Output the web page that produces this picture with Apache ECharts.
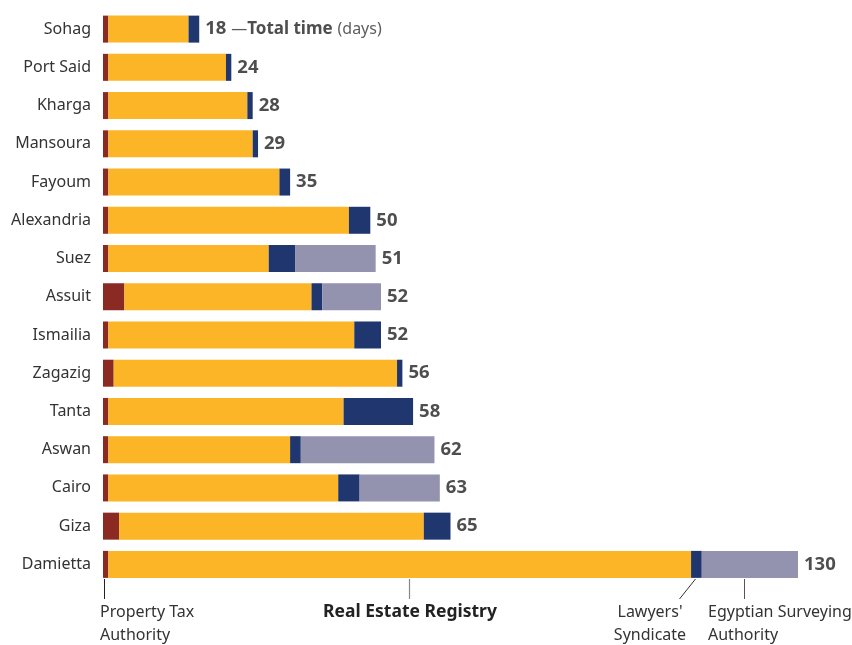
<!DOCTYPE html>
<html>
<head>
<meta charset="utf-8">
<script src="https://cdn.jsdelivr.net/npm/echarts@6/dist/echarts.min.js"></script>
<style>
html,body{margin:0;padding:0;background:#fff;}
#chart{width:852px;height:645px;}
</style>
</head>
<body>
<div id="chart"></div>
<script>
// ---- Data (days) ----
const categories = ['Sohag','Port Said','Kharga','Mansoura','Fayoum','Alexandria','Suez','Assuit','Ismailia','Zagazig','Tanta','Aswan','Cairo','Giza','Damietta'];
const propertyTax     = [1, 1, 1, 1, 1, 1, 1, 4, 1, 2, 1, 1, 1, 3, 1];
const realEstate      = [15, 22, 26, 27, 32, 45, 30, 35, 46, 53, 44, 34, 43, 57, 109];
const lawyers         = [2, 1, 1, 1, 2, 4, 5, 2, 5, 1, 13, 2, 4, 5, 2];
const surveying       = [0, 0, 0, 0, 0, 0, 15, 11, 0, 0, 0, 25, 15, 0, 18];
const totals          = [18, 24, 28, 29, 35, 50, 51, 52, 52, 56, 58, 62, 63, 65, 130];

const FONT = '"Noto Sans", sans-serif';
const FS = 16;
const FST = 18.5;

const colors = { tax:'#8a2a22', reg:'#fbb526', law:'#1f366e', sur:'#9392af' };

const chart = echarts.init(document.getElementById('chart'));

function barSeries(name, data, color){
  return { name, type:'bar', stack:'t', data, barWidth:27,
    itemStyle:{color}, emphasis:{disabled:true}, silent:true };
}

const option = {
  animation:false,
  grid:{ left:103, right:54, top:10, bottom:61.5, containLabel:false },
  xAxis:{ type:'value', min:0, max:130, show:false },
  yAxis:{ type:'category', data:categories, inverse:true,
    axisLine:{show:false}, axisTick:{show:false}, splitLine:{show:false},
    axisLabel:{ fontFamily:FONT, fontSize:FS, color:'#333', margin:12 } },
  series:[
    barSeries('Property Tax Authority', propertyTax, colors.tax),
    barSeries('Real Estate Registry', realEstate, colors.reg),
    barSeries("Lawyers' Syndicate", lawyers, colors.law),
    barSeries('Egyptian Surveying Authority', surveying, colors.sur),
    { type:'scatter', symbolSize:0, silent:true, z:10,
      data: totals.map((v,i)=>[v, i]),
      label:{ show:true, position:'right', distance:6,
        fontFamily:FONT, fontSize:FST, fontWeight:'bold', color:'#222',
        formatter: p => p.dataIndex === 0
          ? '{b|' + p.value[0] + '} {d|—}{t|Total time} {n|(days)}'
          : String(p.value[0]),
        rich:{
          b:{ fontFamily:FONT, fontSize:FST, fontWeight:'bold', color:'#222' },
          t:{ fontFamily:FONT, fontSize:17, fontWeight:'bold', color:'#222' },
          d:{ fontFamily:FONT, fontSize:FS, fontWeight:'normal', color:'#333' },
          n:{ fontFamily:FONT, fontSize:FS, fontWeight:'normal', color:'#333' }
        } } }
  ],
  graphic:[
    { type:'line', shape:{x1:104.5,y1:579,x2:104.5,y2:599}, style:{stroke:'#222',lineWidth:1} },
    { type:'line', shape:{x1:409.5,y1:579,x2:409.5,y2:599}, style:{stroke:'#888',lineWidth:1.2} },
    { type:'line', shape:{x1:695.5,y1:579,x2:679.5,y2:599}, style:{stroke:'#333',lineWidth:1} },
    { type:'line', shape:{x1:744.5,y1:579,x2:744.5,y2:599}, style:{stroke:'#555',lineWidth:1} },
    { type:'text', x:100, y:612, style:{ text:'Property Tax', font: FS+'px '+FONT, fill:'#333', textAlign:'left', textVerticalAlign:'middle' } },
    { type:'text', x:100, y:635, style:{ text:'Authority', font: FS+'px '+FONT, fill:'#333', textAlign:'left', textVerticalAlign:'middle' } },
    { type:'text', x:410, y:612, style:{ text:'Real Estate Registry', font: 'bold 17.5px '+FONT, fill:'#222', textAlign:'center', textVerticalAlign:'middle' } },
    { type:'text', x:650, y:612, style:{ text:"Lawyers'", font: FS+'px '+FONT, fill:'#333', textAlign:'center', textVerticalAlign:'middle' } },
    { type:'text', x:650, y:635, style:{ text:'Syndicate', font: FS+'px '+FONT, fill:'#333', textAlign:'center', textVerticalAlign:'middle' } },
    { type:'text', x:708, y:612, style:{ text:'Egyptian Surveying', font: FS+'px '+FONT, fill:'#333', textAlign:'left', textVerticalAlign:'middle' } },
    { type:'text', x:708, y:635, style:{ text:'Authority', font: FS+'px '+FONT, fill:'#333', textAlign:'left', textVerticalAlign:'middle' } }
  ]
};
chart.setOption(option);
</script>
</body>
</html>
